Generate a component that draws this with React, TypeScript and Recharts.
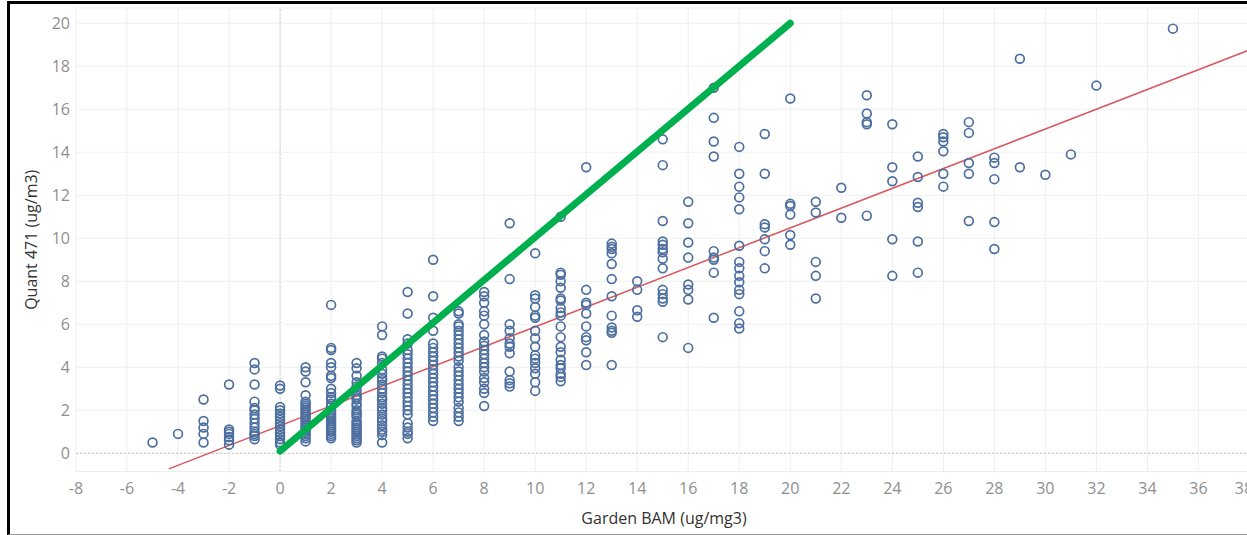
import React from "react";
import {
  ScatterChart,
  Scatter,
  XAxis,
  YAxis,
  CartesianGrid,
  ReferenceLine,
} from "recharts";

// Garden BAM readings (x) and the Quant 471 readings seen at each of them
const gardenBam = [
  -5, -4, -3, -2, -1, 0, 1, 2, 3, 4, 5, 6, 7, 8, 9, 10, 11, 12, 13, 14, 15, 16,
  17, 18, 19, 20, 21, 22, 23, 24, 25, 26, 27, 28, 29, 30, 31, 32, 35,
];

const quantByBam: number[][] = [
  [0.5],
  [0.9],
  [2.5, 1.5, 1.2, 0.9, 0.5],
  [3.2, 1.1, 1.0, 0.9, 0.75, 0.6, 0.4],
  [4.2, 3.9, 3.2, 2.4, 2.1, 2.0, 1.8, 1.6, 1.4, 1.2, 1.0, 0.9, 0.8, 0.65],
  [3.15, 3.0, 2.15, 2.0, 1.85, 1.7, 1.55, 1.4, 1.25, 1.1, 0.95, 0.8, 0.65, 0.5, 0.4],
  [4.0, 3.8, 3.3, 2.7, 2.4, 2.3, 2.2, 2.1, 2.0, 1.9, 1.8, 1.7, 1.6, 1.5, 1.4, 1.3, 1.2, 1.1, 1.0, 0.9, 0.8, 0.7, 0.55],
  [6.9, 4.9, 4.8, 4.2, 4.0, 3.6, 3.5, 3.0, 2.8, 2.6, 2.5, 2.3, 2.2, 2.0, 1.9, 1.8, 1.7, 1.6, 1.5, 1.4, 1.3, 1.2, 1.1, 1.0, 0.9, 0.8, 0.7],
  [4.2, 3.95, 3.6, 3.3, 3.1, 2.9, 2.7, 2.6, 2.5, 2.3, 2.2, 2.0, 1.9, 1.8, 1.7, 1.5, 1.4, 1.3, 1.2, 1.1, 1.0, 0.9, 0.8, 0.7, 0.6, 0.5],
  [5.9, 5.5, 4.5, 4.4, 4.2, 3.9, 3.7, 3.5, 3.4, 3.2, 3.0, 2.8, 2.6, 2.5, 2.3, 2.1, 2.0, 1.8, 1.6, 1.5, 1.3, 1.1, 1.0, 0.85, 0.5],
  [7.5, 6.5, 5.3, 5.1, 4.8, 4.6, 4.4, 4.2, 4.0, 3.8, 3.6, 3.4, 3.2, 3.0, 2.8, 2.6, 2.4, 2.2, 2.0, 1.8, 1.4, 1.2, 1.0, 0.9, 0.7],
  [9.0, 7.3, 6.3, 5.7, 5.1, 4.9, 4.7, 4.5, 4.3, 4.1, 3.9, 3.7, 3.5, 3.3, 3.1, 2.9, 2.7, 2.5, 2.3, 2.1, 1.9, 1.7, 1.5],
  [6.6, 6.5, 6.0, 5.9, 5.7, 5.5, 5.3, 5.1, 4.9, 4.7, 4.5, 4.3, 4.0, 3.8, 3.6, 3.4, 3.2, 3.0, 2.8, 2.6, 2.4, 2.1, 1.9, 1.7, 1.5],
  [7.5, 7.3, 7.0, 6.6, 6.4, 6.0, 5.5, 5.2, 5.0, 4.8, 4.6, 4.4, 4.2, 4.0, 3.8, 3.5, 3.3, 3.0, 2.8, 2.2],
  [10.7, 8.1, 6.0, 5.7, 5.35, 5.1, 4.95, 4.65, 3.8, 3.4, 3.25, 3.1],
  [9.3, 7.35, 7.2, 6.8, 6.4, 6.3, 5.7, 5.35, 4.95, 4.55, 4.4, 4.2, 3.95, 3.7, 3.3, 2.9],
  [11.0, 8.4, 8.3, 8.0, 7.7, 7.2, 7.1, 6.75, 6.55, 6.4, 5.9, 5.4, 4.95, 4.7, 4.35, 4.1, 3.95, 3.7, 3.55, 3.35],
  [13.3, 7.6, 7.0, 6.9, 6.5, 5.9, 5.4, 5.25, 4.7, 4.1],
  [9.75, 9.6, 9.5, 9.3, 8.8, 8.1, 7.3, 6.4, 5.85, 5.7, 5.6, 4.1],
  [8.0, 7.6, 6.65, 6.35],
  [14.6, 13.4, 10.8, 9.85, 9.7, 9.5, 9.35, 9.05, 8.6, 7.6, 7.4, 7.2, 7.05, 5.4],
  [11.7, 10.7, 9.8, 9.1, 7.85, 7.6, 7.15, 4.9],
  [17.0, 15.6, 14.5, 13.8, 9.4, 9.1, 9.0, 8.4, 6.3],
  [14.25, 13.0, 12.4, 11.9, 11.35, 9.65, 8.9, 8.6, 8.25, 7.95, 7.6, 7.4, 6.6, 6.05, 5.8],
  [14.85, 13.0, 10.65, 10.5, 9.95, 9.4, 8.6],
  [16.5, 11.6, 11.5, 11.1, 10.15, 9.7],
  [11.7, 11.2, 8.9, 8.25, 7.2],
  [12.35, 10.95],
  [16.65, 15.8, 15.4, 15.3, 11.05],
  [15.3, 13.3, 12.65, 9.95, 8.25],
  [13.8, 12.85, 11.65, 11.45, 9.85, 8.4],
  [14.85, 14.7, 14.5, 14.05, 13.0, 12.4],
  [15.4, 14.9, 13.5, 13.0, 10.8],
  [13.75, 13.5, 12.75, 10.75, 9.5],
  [18.35, 13.3],
  [12.95],
  [13.9],
  [17.1],
  [19.75],
];

const xTicks = [-8, -6, -4, -2, 0, 2, 4, 6, 8, 10, 12, 14, 16, 18, 20, 22, 24, 26, 28, 30, 32, 34, 36, 38];
const yTicks = [0, 2, 4, 6, 8, 10, 12, 14, 16, 18, 20];

// linear trend (red) and the 1:1 reference (green)
const trendX = [-4.36, 40];
const trendSlope = 0.46;
const trendIntercept = 1.28;
const oneToOneX = [0, 20];
const oneToOneY = [0.1, 20];

const points = gardenBam.flatMap((bam, i) =>
  quantByBam[i].map((q) => ({ x: bam, y: q }))
);
const trendData = trendX.map((x) => ({ x, y: trendIntercept + trendSlope * x }));
const oneToOneData = oneToOneX.map((x, i) => ({ x, y: oneToOneY[i] }));

const FONT = "'Open Sans', sans-serif";

const Ring = (props: any) => {
  const { cx, cy } = props;
  if (cx == null || cy == null) return <g />;
  return <circle cx={cx} cy={cy} r={4.4} fill="none" stroke="#4c6f9f" strokeWidth={1.7} />;
};

const NoDot = () => <g />;

export default function App() {
  return (
    <div
      style={{
        position: "absolute",
        left: 0,
        top: 0,
        width: 1247,
        height: 535,
        overflow: "hidden",
        background: "#fff",
      }}
    >
      <div style={{ position: "absolute", left: 0, top: 0 }}>
        <ScatterChart
          width={1252}
          height={535}
          margin={{ top: 8, right: 0, bottom: 0, left: 0 }}
        >
          <CartesianGrid stroke="#efefef" strokeWidth={1} />
          <XAxis
            type="number"
            dataKey="x"
            domain={[-8, 38.1]}
            ticks={xTicks}
            allowDataOverflow
            height={63.5}
            tickLine={false}
            axisLine={{ stroke: "#eeeeee" }}
            tickMargin={5}
            tick={{ fontSize: 16, fill: "#8f8f8f", fontFamily: FONT }}
            label={{
              value: "Garden BAM (ug/mg3)",
              position: "insideBottom",
              offset: 11,
              style: { fontSize: 16, fill: "#333", fontFamily: FONT },
            }}
          />
          <YAxis
            type="number"
            dataKey="y"
            domain={[-0.85, 20.71]}
            ticks={yTicks}
            allowDataOverflow
            width={76}
            tickLine={false}
            axisLine={false}
            tickMargin={0}
            tick={{ fontSize: 16, fill: "#8f8f8f", fontFamily: FONT }}
            label={{
              value: "Quant 471 (ug/m3)",
              angle: -90,
              position: "insideLeft",
              offset: 31,
              style: { fontSize: 16, fill: "#333", fontFamily: FONT, textAnchor: "middle" },
            }}
          />
          <ReferenceLine x={0} stroke="#c4c4c4" strokeDasharray="2 2" />
          <ReferenceLine y={0} stroke="#c4c4c4" strokeDasharray="2 2" />
          <Scatter
            data={trendData}
            line={{ stroke: "#d9595f", strokeWidth: 1.5 }}
            shape={NoDot}
            isAnimationActive={false}
            legendType="none"
          />
          <Scatter
            data={points}
            shape={Ring}
            isAnimationActive={false}
            legendType="none"
          />
          <Scatter
            data={oneToOneData}
            line={{ stroke: "#00b04f", strokeWidth: 7, strokeLinecap: "round" }}
            shape={NoDot}
            isAnimationActive={false}
            legendType="none"
          />
        </ScatterChart>
      </div>
      <div
        style={{
          position: "absolute",
          left: 7,
          top: 1,
          width: 1245,
          height: 530,
          borderLeft: "3px solid #000",
          borderTop: "3px solid #000",
          borderBottom: "1px solid #9a9a9a",
          pointerEvents: "none",
        }}
      />
    </div>
  );
}
